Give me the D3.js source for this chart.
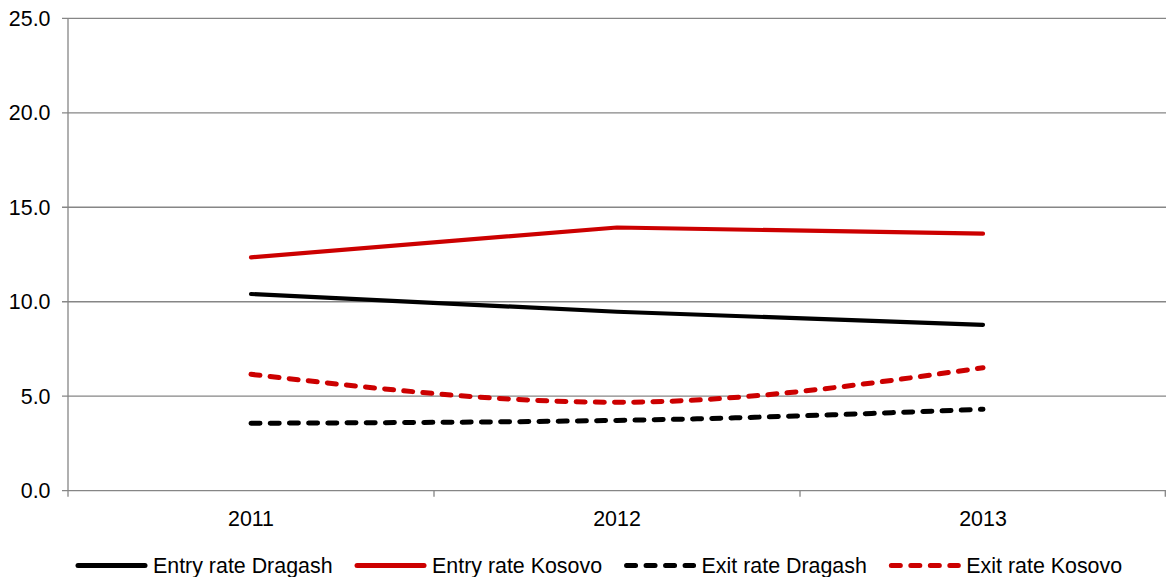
<!DOCTYPE html>
<html><head><meta charset="utf-8">
<script src="https://cdn.jsdelivr.net/npm/d3@7"></script>
<style>
html,body{margin:0;padding:0;background:#fff;}
svg{display:block;font-family:"Liberation Sans",Arial,sans-serif;}
</style></head>
<body>
<svg id="chart" width="1166" height="577"></svg>
<script>
const years = ["2011","2012","2013"];
const yTicks = [0,5,10,15,20,25];
const entryDragash = [10.41, 9.47, 8.78];
const entryKosovo  = [12.35, 13.93, 13.6];
const exitDragash  = [3.57, 3.72, 4.31];
const exitKosovo   = [6.16, 4.68, 6.51];
const seriesNames = ["Entry rate Dragash","Entry rate Kosovo","Exit rate Dragash","Exit rate Kosovo"];
const seriesValues = [entryDragash, entryKosovo, exitDragash, exitKosovo];
const seriesColors = ["#000000","#cc0000","#000000","#cc0000"];
const seriesDashed = [false,false,true,true];

(function(){
const svg = d3.select("#chart");
const pL = 68, pR = 1166, pT = 18.3, pB = 490.7;
const x = d3.scaleBand().domain(years).range([pL, pR]);
const y = d3.scaleLinear().domain([0,25]).range([pB, pT]);
const gray = "#868686";
const fs = 21.4;

// gridlines
svg.append("g").selectAll("line").data(yTicks).join("line")
  .attr("x1", pL - 6).attr("x2", pR)
  .attr("y1", d => y(d)).attr("y2", d => y(d))
  .attr("stroke", gray).attr("stroke-width", 1.3);

// y axis line
svg.append("line").attr("x1", pL).attr("x2", pL)
  .attr("y1", y(25)).attr("y2", pB + 6)
  .attr("stroke", gray).attr("stroke-width", 1.3);

// x ticks at band boundaries
const xb = years.map(d => x(d)).concat([pR - 0.7]);
svg.append("g").selectAll("line").data(xb.slice(1)).join("line")
  .attr("x1", d => d).attr("x2", d => d)
  .attr("y1", pB).attr("y2", pB + 6)
  .attr("stroke", gray).attr("stroke-width", 1.3);

// y labels
svg.append("g").selectAll("text").data(yTicks).join("text")
  .attr("x", 50.5).attr("y", d => y(d)).attr("dy", "0.36em")
  .attr("text-anchor", "end").attr("font-size", fs).attr("fill", "#000")
  .text(d => d.toFixed(1));

// x labels
svg.append("g").selectAll("text").data(years).join("text")
  .attr("x", d => x(d) + x.bandwidth()/2).attr("y", 518.5).attr("dy", "0.36em")
  .attr("text-anchor", "middle").attr("font-size", fs).attr("fill", "#000")
  .text(d => d);

// lines
const lineStraight = d3.line()
  .x((d,i) => x(years[i]) + x.bandwidth()/2)
  .y(d => y(d));
const lineSmooth = d3.line()
  .x((d,i) => x(years[i]) + x.bandwidth()/2)
  .y(d => y(d))
  .curve(d3.curveMonotoneX);

seriesValues.forEach((vals, k) => {
  svg.append("path").datum(vals)
    .attr("d", seriesDashed[k] ? lineSmooth : lineStraight)
    .attr("fill", "none")
    .attr("stroke", seriesColors[k])
    .attr("stroke-width", seriesDashed[k] ? 5 : 4.2)
    .attr("stroke-linecap", "round")
    .attr("stroke-linejoin", "round")
    .attr("stroke-dasharray", seriesDashed[k] ? "9,10.2" : null);
});

// legend
const legY = 565.5;
let lx = 76;
seriesNames.forEach((name, k) => {
  const g = svg.append("g");
  g.append("line").attr("x1", lx + 2).attr("x2", lx + 69)
    .attr("y1", legY).attr("y2", legY)
    .attr("stroke", seriesColors[k])
    .attr("stroke-width", 5)
    .attr("stroke-linecap", "round")
    .attr("stroke-dasharray", seriesDashed[k] ? "9,10.5" : null);
  const t = g.append("text").attr("x", lx + 77).attr("y", legY).attr("dy", "0.36em")
    .attr("font-size", fs).attr("fill", "#000").text(name);
  const w = t.node().getComputedTextLength();
  lx = lx + 77 + w + 22.5;
});
})();
</script>
</body></html>
